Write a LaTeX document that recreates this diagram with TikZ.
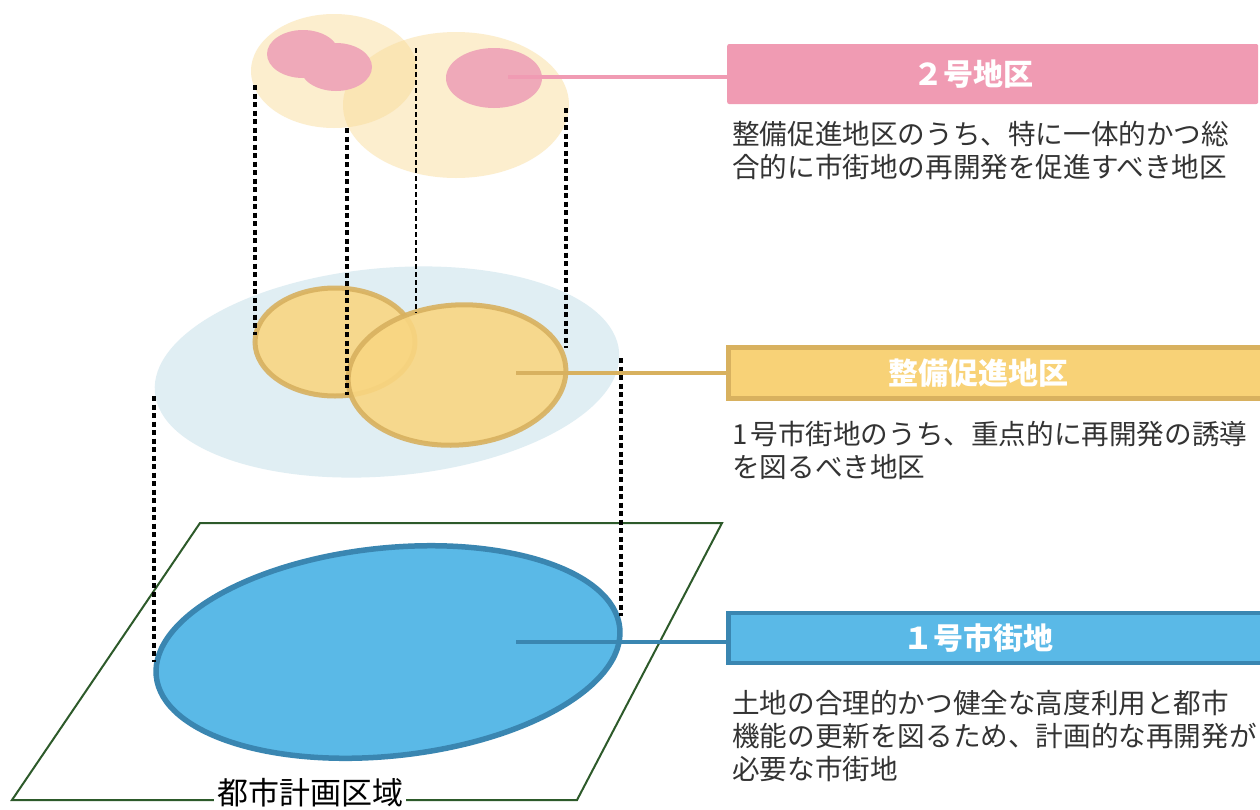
\documentclass[tikz,border=0pt]{standalone}
\usepackage{fontspec}
\newfontfamily\jp{Noto Sans CJK JP}
\definecolor{pinkbox}{HTML}{F09BB3}
\definecolor{pinkfill}{HTML}{EFA9B9}
\definecolor{ytop}{HTML}{F9DB97}
\definecolor{lblue}{HTML}{E0EEF3}
\definecolor{ofill}{HTML}{F9D682}
\definecolor{oline}{HTML}{D8B15F}
\definecolor{obox}{HTML}{F8D277}
\definecolor{bfill}{HTML}{5AB9E7}
\definecolor{bline}{HTML}{3A86B1}
\definecolor{pgreen}{HTML}{2D5A2A}
\definecolor{txt}{HTML}{333333}
\tikzset{
  dline/.style={black,line width=3.2pt,dash pattern=on 5pt off 3.5pt},
  thindline/.style={black,line width=1.3pt,dash pattern=on 5pt off 3pt},
  titlebox/.style={minimum height=56pt,text width=531pt,align=center,inner sep=0pt,
     font=\jp\bfseries\fontsize{30}{34}\selectfont,text=white},
  desc/.style={anchor=north west,align=left,inner sep=0pt,text=txt,
     font=\jp\fontsize{27.6}{33}\selectfont},
}
\begin{document}
\begin{tikzpicture}[x=1pt,y=-1pt]
\useasboundingbox[fill=white] (0,0) rectangle (1260,809);
% city planning area
\draw[pgreen,line width=2pt] (200,523) -- (722,523) -- (577,800) -- (12,800) -- cycle;
\node[fill=white,inner xsep=3pt,inner ysep=0pt,font=\jp\fontsize{31}{31}\selectfont,text=black] (area) at (310,793) {都市計画区域};
% layer 1
\draw[bline,fill=bfill,line width=5.5pt,rotate around={6:(388,652)}] (388,652) ellipse [x radius=233, y radius=104];
% middle layer
\fill[lblue,rotate around={5:(387,372)}] (387,372) ellipse [x radius=233, y radius=104];
\draw[oline,fill=ofill,fill opacity=0.9,draw opacity=0.9,line width=5pt] (335,342) ellipse [x radius=80, y radius=54];
\draw[oline,fill=ofill,fill opacity=0.9,draw opacity=0.9,line width=5pt,rotate around={4:(457,375)}] (457,375) ellipse [x radius=109, y radius=70];
% top layer
\fill[ytop,opacity=0.47] (334,71) ellipse [x radius=83, y radius=57];
\fill[ytop,opacity=0.47] (456,105) ellipse [x radius=113, y radius=73];
\fill[pinkfill] (303,54) ellipse [x radius=36, y radius=24];
\fill[pinkfill] (336,67) ellipse [x radius=36, y radius=24];
\fill[pinkfill] (494,78) ellipse [x radius=48, y radius=30];
% projection lines
\coordinate (a1) at (255,85);  \coordinate (a2) at (255,335);
\coordinate (b1) at (347,128); \coordinate (b2) at (347,395);
\coordinate (c1) at (416,48);  \coordinate (c2) at (416,313);
\coordinate (d1) at (566,108); \coordinate (d2) at (566,348);
\coordinate (e1) at (154,396); \coordinate (e2) at (154,662);
\coordinate (f1) at (621,358); \coordinate (f2) at (621,616);
\draw[dline] (a1) -- (a2);
\draw[dline] (b1) -- (b2);
\draw[thindline] (c1) -- (c2);
\draw[dline] (d1) -- (d2);
\draw[dline] (e1) -- (e2);
\draw[dline] (f1) -- (f2);
% title boxes
\node[titlebox,fill=pinkbox,rounded corners=2pt,minimum height=60pt,anchor=west] (t2) at (727,74) {\hspace*{-39pt}２号地区};
\node[titlebox,fill=obox,draw=oline,line width=4.5pt,minimum height=51pt,anchor=west,text width=540pt] (tp) at (726,373) {\hspace*{-40pt}整備促進地区};
\node[titlebox,fill=bfill,draw=bline,line width=4.5pt,minimum height=50pt,anchor=west,text width=540pt] (t1) at (726,638) {\hspace*{-40pt}１号市街地};
% connectors
\coordinate (s2) at (508,77);
\coordinate (sp) at (516,373);
\coordinate (s1) at (516,642);
\draw[pinkbox,line width=4pt] (s2) -- (s2 -| t2.west);
\draw[oline,line width=4.5pt] (sp) -- (sp -| tp.west);
\draw[bline,line width=4.5pt] (s1) -- (s1 -| t1.west);
% descriptions
\node[desc] (d2t) at (732,121) {整備促進地区のうち、特に一体的かつ総\\合的に市街地の再開発を促進すべき地区};
\node[desc] (dpt) at (732,421) {1\hspace{3pt}号市街地のうち、重点的に再開発の誘導\\を図るべき地区};
\node[desc] (d1t) at (732,690) {土地の合理的かつ健全な高度利用と都市\\機能の更新を図るため、計画的な再開発が\\必要な市街地};
\end{tikzpicture}
\end{document}
